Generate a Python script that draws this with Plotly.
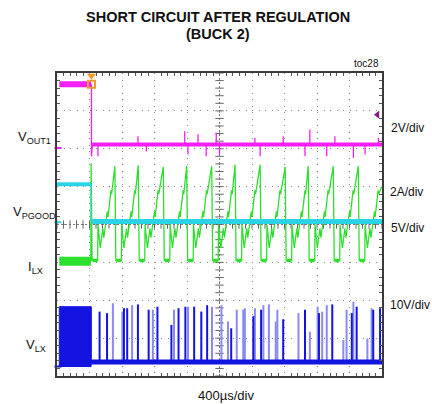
import plotly.graph_objects as go
import numpy as np

# ---------------- data (units: screen divisions; x: 400 us/div, y: 8 div) ----------------
T_SHORT = 1.05

VOUT_PRE_T = [0.07, 1.05]
VOUT_PRE_Y = 7.70
VOUT_POST_Y = 6.11
VOUT_DROP_Y = 5.80
VOUT_GLITCH_T = [1.26, 2.49, 2.75, 3.93, 4.03, 4.34, 4.59, 4.90, 5.00, 6.09, 6.25,
                 6.96, 7.63, 7.78, 8.30, 8.55, 9.12, 9.48, 9.89]
VOUT_GLITCH_Y = [5.80, 6.33, 5.93, 6.46, 5.85, 6.38, 5.80, 6.42, 5.85, 6.29, 5.80,
                 6.33, 5.80, 6.51, 5.80, 6.33, 5.76, 5.85, 6.29]

PG_PRE_Y = 5.06
PG_POST_Y = 4.08

ILX_PRE_Y = 3.03
ILX_ZERO_Y = 3.05
ILX_PEAK_T = [1.05, 1.78, 2.50, 3.27, 3.99, 4.76, 5.48, 6.25, 7.02, 7.73, 8.50, 9.27, 9.99]
ILX_PEAK_Y = [5.62, 5.54, 5.56, 5.52, 5.54, 5.54, 5.58, 5.58, 5.52, 5.54, 5.54, 5.54, 5.00]
ILX_SHAPE_DT = [0.03, 0.20, 0.21, 0.28, 0.36, 0.39, 0.50, 0.52, 0.61, 0.63]
ILX_SHAPE_Y = [3.05, 3.05, 4.00, 3.38, 3.90, 3.65, 4.35, 4.20, 4.90, 4.80]

VLX_PRE_T = [0.07, 1.05]
VLX_PRE_TOP = 1.83
VLX_PRE_BOT = 0.25
VLX_BASE_Y = 0.37
VLX_SPIKE_T = [1.31, 1.54, 1.72, 2.01, 2.06, 2.16, 2.31, 2.49, 2.82, 2.95, 3.09, 3.52, 3.60,
               3.74, 3.95, 4.03, 4.22, 4.44, 4.62, 4.77, 5.06, 5.26, 5.36, 5.53, 5.73, 5.78,
               6.04, 6.09, 6.28, 6.35, 6.52, 6.73, 6.78, 6.96, 7.43, 7.63, 7.78, 8.02, 8.06,
               8.16, 8.30, 8.47, 8.81, 8.91, 9.07, 9.12, 9.22, 9.55, 9.68, 9.73, 9.94]
VLX_SPIKE_TOP = [1.70, 1.66, 1.92, 1.70, 1.79, 1.79, 1.87, 1.89, 1.75, 1.75, 1.83, 1.35, 1.75,
                 1.79, 1.83, 1.83, 1.83, 1.70, 1.87, 1.83, 1.87, 1.44, 1.26, 1.75, 1.75, 1.79,
                 1.58, 1.79, 1.75, 1.87, 1.89, 1.44, 1.75, 1.50, 1.66, 1.75, 1.17, 1.83, 1.66,
                 1.70, 1.87, 1.89, 0.95, 1.75, 1.66, 1.96, 1.83, 0.99, 1.79, 1.75, 1.79]
VLX_SPIKE_DARK = [1, 1, 0, 0, 1, 1, 0, 1, 1, 0, 1, 1, 0,
                  1, 1, 0, 1, 1, 1, 0, 0, 0, 1, 0, 0, 0,
                  1, 0, 1, 0, 0, 0, 0, 1, 0, 1, 0, 0, 1,
                  0, 0, 1, 0, 0, 1, 0, 1, 0, 0, 1, 1]

TRIG_T = 1.06
TRIG_LEVEL_Y = 6.90

# ---------------- colours ----------------
MAG = "#f51ff5"
CYAN = "#2bd3e6"
GREEN = "#2ee02e"
BLUE = "#1414e0"
BLUE_L = "#8a8af2"
ORANGE = "#f39a2b"

W, H = 432, 404
ML, MR, MT, MB = 57, 50, 73, 28

fig = go.Figure()

def line(x, y, color, width, **kw):
    fig.add_trace(go.Scatter(x=x, y=y, mode="lines", line=dict(color=color, width=width),
                             hoverinfo="skip", showlegend=False, **kw))

# ---- center crosshair ticks ----
fig.add_trace(go.Scatter(x=[5] * 41, y=list(np.arange(0, 8.01, 0.2)), mode="markers",
                         marker=dict(symbol="line-ew", size=6, line=dict(width=1, color="#666")),
                         hoverinfo="skip", showlegend=False))
fig.add_trace(go.Scatter(x=list(np.arange(0, 10.01, 0.2)), y=[4] * 51, mode="markers",
                         marker=dict(symbol="line-ns", size=6, line=dict(width=1, color="#666")),
                         hoverinfo="skip", showlegend=False))

# ---- VLX (blue) ----
line([VLX_PRE_T[0], VLX_PRE_T[1], VLX_PRE_T[1], VLX_PRE_T[0], VLX_PRE_T[0]],
     [VLX_PRE_BOT, VLX_PRE_BOT, VLX_PRE_TOP, VLX_PRE_TOP, VLX_PRE_BOT], BLUE, 1,
     fill="toself", fillcolor=BLUE)
for dark_flag, col in ((0, BLUE_L), (1, BLUE)):
    xs, ys = [], []
    for t, top, d in zip(VLX_SPIKE_T, VLX_SPIKE_TOP, VLX_SPIKE_DARK):
        if d == dark_flag:
            xs += [t, t, None]
            ys += [VLX_BASE_Y, top, None]
    line(xs, ys, col, 2)
line([T_SHORT, T_SHORT], [VLX_BASE_Y, VLX_PRE_TOP], BLUE, 1)
line([T_SHORT, 10], [VLX_BASE_Y, VLX_BASE_Y], BLUE, 5)

# ---- ILX (green) ----
line([VLX_PRE_T[0], T_SHORT - 0.01], [ILX_PRE_Y, ILX_PRE_Y], GREEN, 9)
gx, gy = [T_SHORT - 0.01], [ILX_PRE_Y]
fx, fy = [], []
for i, (tp, yp) in enumerate(zip(ILX_PEAK_T, ILX_PEAK_Y)):
    gx.append(tp); gy.append(yp)
    nxt = ILX_PEAK_T[i + 1] if i + 1 < len(ILX_PEAK_T) else 10.0
    for dt, yv in zip(ILX_SHAPE_DT, ILX_SHAPE_Y):
        if tp + dt < nxt and tp + dt <= 10:
            gx.append(tp + dt); gy.append(yv)
    if tp + 0.19 < 10:
        fx += [tp + 0.05, tp + 0.19, None]
        fy += [ILX_ZERO_Y, ILX_ZERO_Y, None]
line(gx, gy, GREEN, 1.3)
line(fx, fy, GREEN, 3.5)

# ---- VPGOOD (cyan) ----
line([0.0, T_SHORT], [PG_PRE_Y, PG_PRE_Y], CYAN, 4)
line([T_SHORT, T_SHORT], [PG_PRE_Y, PG_POST_Y], CYAN, 1)
line([T_SHORT + 0.02, 10], [PG_POST_Y, PG_POST_Y], CYAN, 5)

# ---- VOUT1 (magenta) ----
line(VOUT_PRE_T, [VOUT_PRE_Y, VOUT_PRE_Y], MAG, 6)
line([T_SHORT + 0.01, T_SHORT + 0.01, T_SHORT + 0.04], [VOUT_PRE_Y, VOUT_DROP_Y, VOUT_POST_Y], MAG, 1.3)
line([T_SHORT + 0.03, 10], [VOUT_POST_Y, VOUT_POST_Y], MAG, 4)
gxs, gys = [], []
for t, yv in zip(VOUT_GLITCH_T, VOUT_GLITCH_Y):
    gxs += [t, t, None]
    gys += [VOUT_POST_Y, yv, None]
line(gxs, gys, MAG, 1.3)

# ---- markers ----
fig.add_trace(go.Scatter(x=[TRIG_T], y=[7.70], mode="markers",
                         marker=dict(symbol="square-open", size=7, color=ORANGE, line=dict(width=2, color=ORANGE)),
                         hoverinfo="skip", showlegend=False))
fig.add_trace(go.Scatter(x=[TRIG_T], y=[7.93], mode="markers", cliponaxis=False,
                         marker=dict(symbol="triangle-down", size=8, color=ORANGE),
                         hoverinfo="skip", showlegend=False))
fig.add_trace(go.Scatter(x=[9.86], y=[TRIG_LEVEL_Y], mode="markers",
                         marker=dict(symbol="triangle-left", size=7, color="#8b1a8b"),
                         hoverinfo="skip", showlegend=False))
fig.add_trace(go.Scatter(x=[0.03, 0.03, 0.03], y=[6.02, 4.06, 0.25], mode="markers", cliponaxis=False,
                         marker=dict(symbol="line-ew", size=5, line=dict(width=2, color=[MAG, CYAN, BLUE])),
                         hoverinfo="skip", showlegend=False))

# ---- text ----
def px(x):
    return (x - ML) / (W - ML - MR)

def py(y):
    return (H - MB - y) / (H - MT - MB)

ann = []
def text(s, x, y, size, xanchor="center", family="Liberation Sans, Arial, sans-serif"):
    ann.append(dict(text=s, x=px(x), y=py(y), xref="paper", yref="paper", showarrow=False,
                    xanchor=xanchor, yanchor="middle",
                    font=dict(size=size, color="#111", family=family)))

text("<b>SHORT CIRCUIT AFTER REGULATION</b>", 218, 17, 14.5)
text("<b>(BUCK 2)</b>", 218, 34, 14.5)
text("toc28", 366, 63, 10)
text("V<sub>OUT1</sub>", 34, 137, 13)
text("V<sub>PGOOD</sub>", 34, 212, 13)
text("I<sub>LX</sub>", 35, 267, 13)
text("V<sub>LX</sub>", 36, 345, 13)
text("2V/div", 389, 128, 12, xanchor="left")
text("2A/div", 388, 192, 12, xanchor="left")
text("5V/div", 389, 228, 12, xanchor="left")
text("10V/div", 388, 305, 12, xanchor="left")
text("400µs/div", 226, 395, 13)

axis_common = dict(showgrid=True, gridcolor="#8a8a8a", gridwidth=1, griddash="1px,5.5px",
                   showline=True, linecolor="#3a3a3a", linewidth=2, mirror="ticks",
                   ticks="", showticklabels=False, zeroline=False, fixedrange=True)

fig.update_layout(
    width=W, height=H,
    margin=dict(l=ML, r=MR, t=MT, b=MB, pad=0),
    paper_bgcolor="white", plot_bgcolor="white",
    xaxis=dict(range=[0, 10], dtick=1, tick0=0,
               minor=dict(dtick=0.2, ticks="inside", ticklen=3, tickcolor="#555", showgrid=False),
               **axis_common),
    yaxis=dict(range=[0, 8], dtick=1, tick0=0,
               minor=dict(dtick=0.2, ticks="inside", ticklen=3, tickcolor="#555", showgrid=False),
               **axis_common),
    shapes=[
        dict(type="line", xref="x", yref="y", x0=5, x1=5, y0=0, y1=8,
             line=dict(color="#777", width=1, dash="2px,2px"), layer="below"),
        dict(type="line", xref="x", yref="y", x0=0, x1=10, y0=4, y1=4,
             line=dict(color="#777", width=1, dash="2px,2px"), layer="below"),
    ],
    annotations=ann,
    showlegend=False,
)

fig.write_html("out.html", config={"displayModeBar": False},
               post_script="document.body.style.margin='0px';document.body.style.overflow='hidden';")
